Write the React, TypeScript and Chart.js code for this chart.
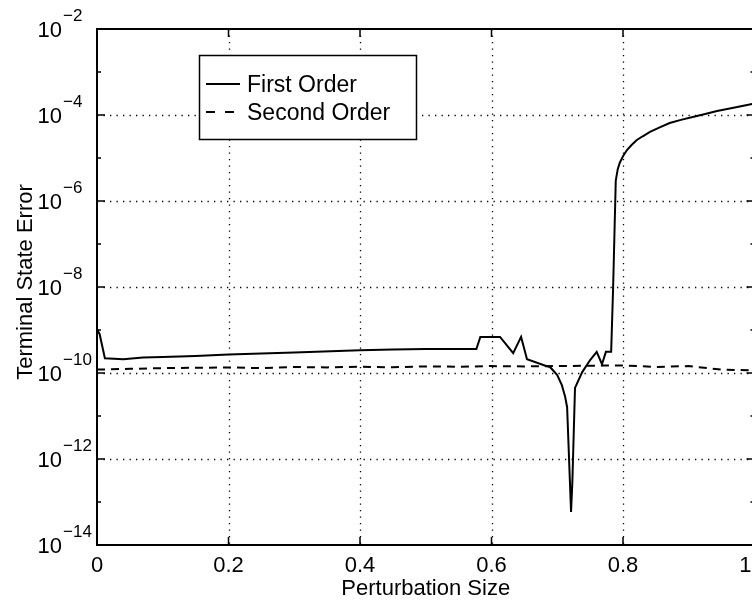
import React, { useEffect, useRef } from "react";
import { Chart, registerables } from "chart.js";

Chart.register(...registerables);

// ---- Data ----
const firstOrderX = [
  0, 0.004, 0.012, 0.04, 0.07, 0.1, 0.15, 0.2, 0.3, 0.4, 0.45, 0.5, 0.577,
  0.583, 0.613, 0.633, 0.645, 0.654, 0.681, 0.689, 0.7, 0.707, 0.712, 0.715,
  0.721, 0.723, 0.727, 0.738, 0.75, 0.76, 0.768, 0.774, 0.782, 0.785, 0.789,
  0.792, 0.795, 0.8, 0.806, 0.813, 0.821, 0.83, 0.841, 0.855, 0.871, 0.888,
  0.906, 0.925, 0.943, 0.97, 1.0,
];
const firstOrderY = [
  1.05e-9, 8e-10, 2.2e-10, 2.1e-10, 2.3e-10, 2.35e-10, 2.5e-10, 2.7e-10,
  3.0e-10, 3.4e-10, 3.5e-10, 3.6e-10, 3.6e-10, 6.9e-10, 6.9e-10, 2.9e-10,
  6.9e-10, 2.1e-10, 1.5e-10, 1.38e-10, 9e-11, 5.2e-11, 2.8e-11, 1.6e-11,
  5.9e-14, 3e-13, 4.5e-11, 1.05e-10, 2e-10, 3.1e-10, 1.6e-10, 3.1e-10,
  3.1e-10, 1e-8, 3e-6, 5.5e-6, 7.7e-6, 1.1e-5, 1.53e-5, 2.0e-5, 2.62e-5,
  3.2e-5, 4.03e-5, 5.1e-5, 6.5e-5, 7.7e-5, 8.97e-5, 1.06e-4, 1.24e-4,
  1.5e-4, 1.86e-4,
];
const secondOrderX = [
  0, 0.05, 0.1, 0.15, 0.2, 0.25, 0.3, 0.35, 0.4, 0.45, 0.5, 0.55, 0.6, 0.65,
  0.7, 0.75, 0.8, 0.85, 0.9, 0.95, 1.0,
];
const secondOrderY = [
  1.2e-10, 1.25e-10, 1.3e-10, 1.32e-10, 1.35e-10, 1.3e-10, 1.38e-10,
  1.35e-10, 1.4e-10, 1.36e-10, 1.42e-10, 1.4e-10, 1.45e-10, 1.42e-10,
  1.45e-10, 1.48e-10, 1.5e-10, 1.38e-10, 1.45e-10, 1.2e-10, 1.15e-10,
];
const xTickValues = [0, 0.2, 0.4, 0.6, 0.8, 1];
const yDecadeExps = [-14, -13, -12, -11, -10, -9, -8, -7, -6, -5, -4, -3, -2];
const seriesLabels = ["First Order", "Second Order"];
const xTitle = "Perturbation Size";
const yTitle = "Terminal State Error";

const FONT = "'Liberation Sans', Arial, Helvetica, sans-serif";

const matlabPlugin = {
  id: "matlabStyle",
  beforeDatasetsDraw(chart: any) {
    const { ctx, chartArea: a } = chart;
    const xs = chart.scales.x;
    const ys = chart.scales.y;
    ctx.save();
    ctx.beginPath();
    ctx.rect(a.left, a.top, a.right - a.left, a.bottom - a.top);
    ctx.clip();
    ctx.strokeStyle = "#000";
    ctx.lineWidth = 1.3;
    ctx.setLineDash([1.3, 5.2]);
    for (const v of xTickValues) {
      if (v === 0 || v === 1) continue;
      const px = Math.round(xs.getPixelForValue(v)) + 0.5;
      ctx.beginPath();
      ctx.moveTo(px, a.top);
      ctx.lineTo(px, a.bottom);
      ctx.stroke();
    }
    for (const e of yDecadeExps) {
      if (e % 2 !== 0 || e === -14 || e === -2) continue;
      const py = Math.round(ys.getPixelForValue(Math.pow(10, e))) + 0.5;
      ctx.beginPath();
      ctx.moveTo(a.left, py);
      ctx.lineTo(a.right, py);
      ctx.stroke();
    }
    ctx.restore();
  },
  afterDatasetsDraw(chart: any) {
    const { ctx, chartArea: a } = chart;
    const xs = chart.scales.x;
    const ys = chart.scales.y;
    ctx.save();
    ctx.setLineDash([]);
    ctx.strokeStyle = "#000";
    // ticks
    ctx.lineWidth = 1.5;
    for (const v of xTickValues) {
      const px = xs.getPixelForValue(v);
      ctx.beginPath();
      ctx.moveTo(px, a.bottom);
      ctx.lineTo(px, a.bottom - 8);
      ctx.moveTo(px, a.top);
      ctx.lineTo(px, a.top + 8);
      ctx.stroke();
    }
    for (const e of yDecadeExps) {
      const py = ys.getPixelForValue(Math.pow(10, e));
      const len = e % 2 === 0 ? 8 : 4;
      ctx.beginPath();
      ctx.moveTo(a.left, py);
      ctx.lineTo(a.left + len, py);
      ctx.moveTo(a.right, py);
      ctx.lineTo(a.right - len, py);
      ctx.stroke();
    }
    // border
    ctx.lineWidth = 2;
    ctx.strokeRect(a.left, a.top, a.right - a.left, a.bottom - a.top);

    // legend
    const lx = 199, ly = 55, lw = 217, lh = 84;
    ctx.fillStyle = "#fff";
    ctx.fillRect(lx, ly, lw, lh);
    ctx.lineWidth = 1.5;
    ctx.strokeRect(lx + 0.5, ly + 0.5, lw, lh);
    ctx.lineWidth = 2;
    ctx.beginPath();
    ctx.moveTo(206, 84);
    ctx.lineTo(240, 84);
    ctx.stroke();
    ctx.beginPath();
    ctx.moveTo(206, 112);
    ctx.lineTo(215, 112);
    ctx.moveTo(225, 112);
    ctx.lineTo(234, 112);
    ctx.stroke();
    ctx.fillStyle = "#000";
    ctx.font = `23px ${FONT}`;
    ctx.textAlign = "left";
    ctx.textBaseline = "alphabetic";
    ctx.fillText(seriesLabels[0], 247, 92);
    ctx.fillText(seriesLabels[1], 247, 120);

    // y tick labels (10^n)
    for (const e of yDecadeExps) {
      if (e % 2 !== 0) continue;
      const py = ys.getPixelForValue(Math.pow(10, e));
      ctx.font = `22px ${FONT}`;
      ctx.textAlign = "right";
      ctx.fillText("10", 62, py + 8);
      ctx.font = `17px ${FONT}`;
      ctx.textAlign = "left";
      ctx.fillText("\u2212" + Math.abs(e), 63, py - 8);
    }

    // axis titles
    ctx.font = `22px ${FONT}`;
    ctx.textAlign = "center";
    ctx.fillText(xTitle, (a.left + a.right) / 2, 595);
    ctx.translate(32, 282);
    ctx.rotate(-Math.PI / 2);
    ctx.fillText(yTitle, 0, 0);
    ctx.restore();
  },
};

export default function App() {
  const ref = useRef<HTMLCanvasElement>(null);
  useEffect(() => {
    if (!ref.current) return;
    Chart.defaults.font.family = FONT;
    const first = firstOrderX.map((x, i) => ({ x, y: firstOrderY[i] }));
    const second = secondOrderX.map((x, i) => ({ x, y: secondOrderY[i] }));
    const chart = new Chart(ref.current, {
      type: "line",
      data: {
        datasets: [
          {
            label: seriesLabels[0],
            data: first,
            borderColor: "#000",
            borderWidth: 2,
            pointRadius: 0,
            tension: 0,
            fill: false,
          },
          {
            label: seriesLabels[1],
            data: second,
            borderColor: "#000",
            borderWidth: 2,
            borderDash: [8, 6],
            pointRadius: 0,
            tension: 0,
            fill: false,
          },
        ],
      },
      options: {
        responsive: false,
        animation: false,
        events: [],
        layout: { padding: { left: 0, top: 29, right: 45.5, bottom: 0 } },
        plugins: { legend: { display: false }, tooltip: { enabled: false } },
        scales: {
          x: {
            type: "linear",
            min: 0,
            max: 1,
            ticks: {
              stepSize: 0.2,
              color: "#000",
              font: { size: 22, family: FONT },
              padding: 8,
              maxRotation: 0,
              autoSkip: false,
            },
            grid: { display: false, drawTicks: false },
            border: { display: false },
            afterFit: (s: any) => {
              s.height = 56;
            },
          },
          y: {
            type: "logarithmic",
            min: 1e-14,
            max: 1e-2,
            ticks: { display: false },
            grid: { display: false, drawTicks: false },
            border: { display: false },
            afterFit: (s: any) => {
              s.width = 97;
            },
          },
        },
      },
      plugins: [matlabPlugin],
    } as any);
    return () => chart.destroy();
  }, []);
  return (
    <div
      style={{
        position: "fixed",
        left: 0,
        top: 0,
        width: 800,
        height: 601,
        background: "#fff",
      }}
    >
      <canvas ref={ref} width={800} height={601} style={{ display: "block" }} />
    </div>
  );
}
